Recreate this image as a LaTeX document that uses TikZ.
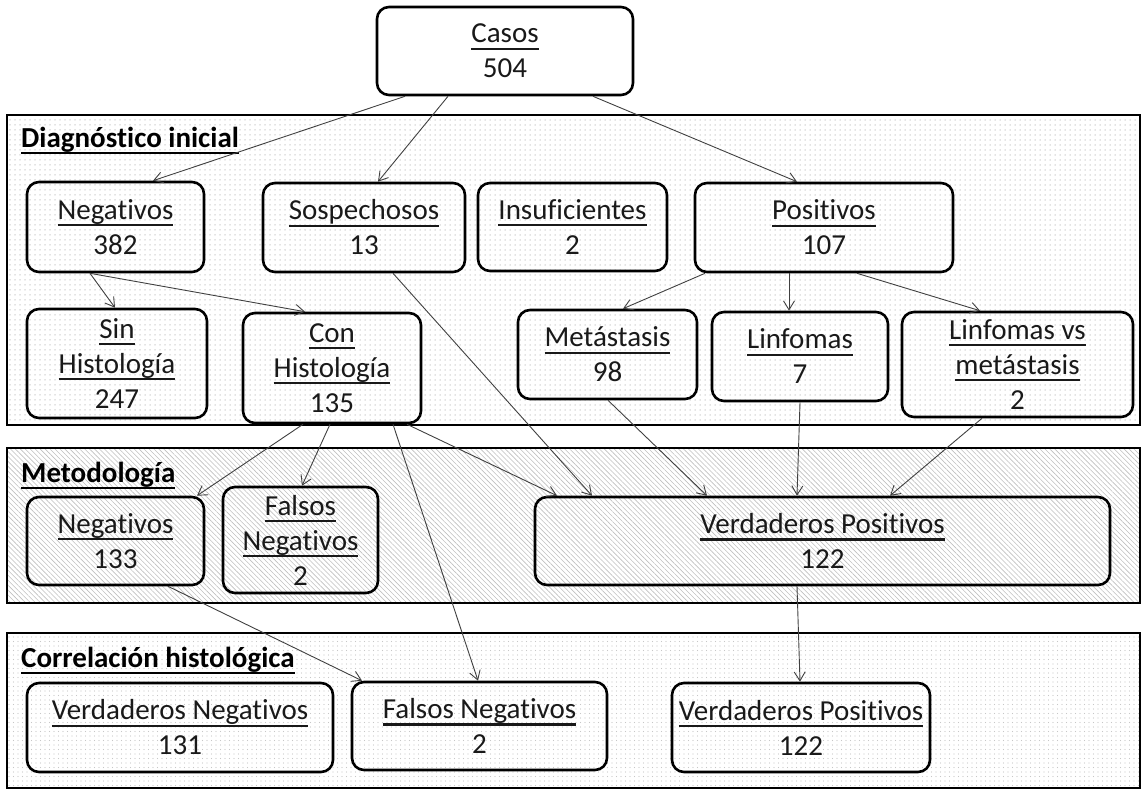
\documentclass[tikz,border=0pt]{standalone}
\usepackage{fontspec}
\setmainfont{Carlito}[Ligatures=NoCommon]
\usepackage{tikz}
\usetikzlibrary{positioning,arrows.meta,patterns.meta}
\usepackage{xcolor}

% underlined heading inside a box
\newcommand{\subrayado}[1]{\setbox0\hbox{#1}\rlap{\rule[-7pt]{\wd0}{2.2pt}}\box0}

\begin{document}
\begin{tikzpicture}[x=1pt, y=-1pt,
    caja/.style={draw, line width=2.6pt, rounded corners=12pt, align=center,
                 inner sep=0pt, font=\fontsize{29}{35}\selectfont, text=black!90},
    seccion/.style={draw, line width=2.8pt},
    titulo/.style={anchor=base west, inner sep=0pt, font=\fontsize{29}{35}\selectfont\bfseries},
    flecha/.style={-{Straight Barb[length=9pt,width=11pt]}, line width=0.9pt, draw=black!75}]
        \useasboundingbox (0,0) rectangle (1142,790);

        % Background bands
        \draw[seccion, pattern={Dots[distance=5pt,radius=0.75pt]}, pattern color=black!22] (7,115) rectangle (1140,425);
        \draw[seccion, pattern={Lines[angle=-45,distance=3.5pt,line width=0.6pt]}, pattern color=black!25] (7,448) rectangle (1140,603);
        \draw[seccion, pattern={Dots[distance=4.5pt,radius=0.7pt]}, pattern color=black!22] (7,633) rectangle (1140,788);

        \node[titulo] (tdiag) at (21,147) {\subrayado{Diagnóstico inicial}};
        \node[titulo] (tmet) at (21,482) {\subrayado{Metodología}};
        \node[titulo] (tcor) at (21,667) {\subrayado{Correlación histológica}};

        % Top
        \node[caja, fill=white, minimum width=256pt, minimum height=88pt] (casos) at (505,51) {\subrayado{Casos}\\504};

        % Diagnostico inicial
        \node[caja, minimum width=177pt, minimum height=90pt] (neg) at (115.5,227) {\subrayado{Negativos}\\382};
        \node[caja, minimum width=202pt, minimum height=89pt] (sosp) at (364,227.5) {\subrayado{Sospechosos}\\13};
        \node[caja, minimum width=189pt, minimum height=88pt] (insuf) at (572.5,227) {\subrayado{Insuficientes}\\2};
        \node[caja, minimum width=258pt, minimum height=89pt] (pos) at (824,227.5) {\subrayado{Positivos}\\107};

        \node[caja, minimum width=180pt, minimum height=109pt] (sinh) at (117,363.5) {\subrayado{Sin}\\\subrayado{Histología}\\247};
        \node[caja, minimum width=178pt, minimum height=110pt] (conh) at (332,368) {\subrayado{Con}\\\subrayado{Histología}\\135};
        \node[caja, minimum width=179pt, minimum height=89pt] (meta) at (607.5,354.5) {\subrayado{Metástasis}\\98};
        \node[caja, minimum width=176pt, minimum height=89pt] (linf) at (800,356.5) {\subrayado{Linfomas}\\7};
        \node[caja, minimum width=231pt, minimum height=105pt] (linfvs) at (1017.5,364.5) {\subrayado{Linfomas vs}\\\subrayado{metástasis}\\2};

        % Metodologia
        \node[caja, minimum width=177pt, minimum height=88pt] (neg2) at (115.5,541) {\subrayado{Negativos}\\133};
        \node[caja, minimum width=155pt, minimum height=106pt] (fneg) at (300.5,540) {\subrayado{Falsos}\\\subrayado{Negativos}\\2};
        \node[caja, minimum width=575pt, minimum height=88pt] (vpos) at (822.5,541) {\subrayado{Verdaderos Positivos}\\122};

        % Correlacion histologica
        \node[caja, minimum width=306pt, minimum height=89pt] (vneg) at (180,727.5) {\subrayado{Verdaderos Negativos}\\131};
        \node[caja, minimum width=255pt, minimum height=88pt] (fneg2) at (479.5,726) {\subrayado{Falsos Negativos}\\2};
        \node[caja, minimum width=258pt, minimum height=89pt] (vpos2) at (801,727.5) {\subrayado{Verdaderos Positivos}\\122};

        % Arrows
        \draw[flecha] ([xshift=-100pt]casos.south) -- ([xshift=37.5pt]neg.north);
        \draw[flecha] ([xshift=-57pt]casos.south) -- ([xshift=14pt]sosp.north);
        \draw[flecha] ([xshift=88pt]casos.south) -- ([xshift=-27pt]pos.north);

        \draw[flecha] ([xshift=-25.5pt]neg.south) -- ([xshift=-2pt]sinh.north);
        \draw[flecha] ([xshift=-25.5pt]neg.south) -- ([xshift=-27pt]conh.north);
        \draw[flecha] ([xshift=-119pt]pos.south) -- ([xshift=15.5pt]meta.north);
        \draw[flecha] ([xshift=-35pt]pos.south) -- ([xshift=-11pt]linf.north);
        \draw[flecha] ([xshift=33pt]pos.south) -- ([xshift=-37.5pt]linfvs.north);

        \draw[flecha] ([xshift=29pt]sosp.south) -- ([xshift=-230.5pt]vpos.north);
        \draw[flecha] ([xshift=75pt]conh.south) -- ([xshift=-265.5pt]vpos.north);
        \draw[flecha] ([xshift=0.5pt]meta.south) -- ([xshift=-115.5pt]vpos.north);
        \draw[flecha] (linf.south) -- ([xshift=-25.5pt]vpos.north);
        \draw[flecha] ([xshift=-35.5pt]linfvs.south) -- ([xshift=67.5pt]vpos.north);

        \draw[flecha] ([xshift=-29pt]conh.south) -- ([xshift=81.5pt]neg2.north);
        \draw[flecha] ([xshift=-2pt]conh.south) -- ([xshift=1.5pt]fneg.north);
        \draw[flecha] ([xshift=61pt]conh.south) -- ([xshift=-1.5pt]fneg2.north);
        \draw[flecha] ([xshift=52.5pt]neg2.south) -- ([xshift=-117.5pt]fneg2.north);
        \draw[flecha] ([xshift=-25.5pt]vpos.south) -- ([xshift=-1pt]vpos2.north);
    \end{tikzpicture}
\end{document}
